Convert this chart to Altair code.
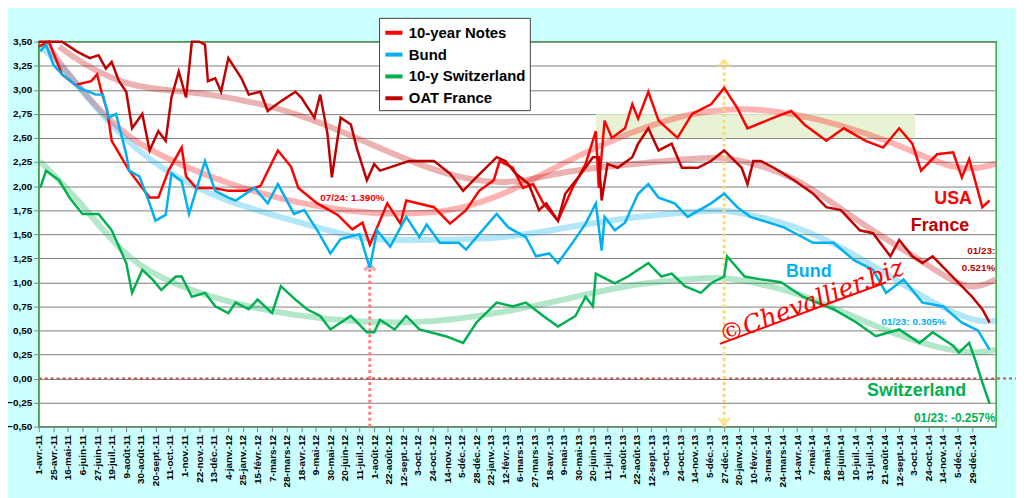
import altair as alt
import pandas as pd

DATE_LABELS = [
    "1-avr.-11", "25-avr.-11", "16-mai-11", "6-juin-11", "27-juin-11", "19-juil.-11",
    "9-août-11", "30-août-11", "20-sept.-11", "11-oct.-11", "1-nov.-11", "22-nov.-11",
    "13-déc.-11", "4-janv.-12", "25-janv.-12", "15-févr.-12", "7-mars-12", "28-mars-12",
    "18-avr.-12", "9-mai-12", "30-mai-12", "20-juin-12", "11-juil.-12", "1-août-12",
    "22-août-12", "12-sept.-12", "3-oct.-12", "24-oct.-12", "14-nov.-12", "5-déc.-12",
    "28-déc.-12", "22-janv.-13", "12-févr.-13", "6-mars-13", "27-mars-13", "18-avr.-13",
    "9-mai-13", "30-mai-13", "20-juin-13", "11-juil.-13", "1-août-13", "22-août-13",
    "12-sept.-13", "3-oct.-13", "24-oct.-13", "14-nov.-13", "5-déc.-13", "27-déc.-13",
    "20-janv.-14", "10-févr.-14", "3-mars-14", "24-mars-14", "14-avr.-14", "7-mai-14",
    "28-mai-14", "18-juin-14", "10-juil.-14", "31-juil.-14", "21-août-14", "12-sept.-14",
    "3-oct.-14", "24-oct.-14", "14-nov.-14", "5-déc.-14", "29-déc.-14",
]

# time in "label steps" (one step = 15 trading days)
US_T = [0, 0.7, 1.6, 2.5, 3.6, 4.0, 4.3, 4.7, 5.0, 6.2, 7.1, 7.6, 8.2, 8.9, 9.8, 10.1,
        10.8, 12.0, 13.0, 14.2, 15.2, 16.4, 17.3, 17.8, 19.1, 20.5, 21.5, 22.2, 22.7,
        23.9, 24.8, 25.2, 27.1, 28.2, 29.3, 30.2, 31.2, 31.6, 32.5, 33.2, 33.9, 34.6,
        35.6, 36.6, 37.5, 38.2, 38.4, 38.8, 39.3, 40.2, 40.7, 41.1, 41.8, 42.5, 43.8,
        44.8, 46.1, 47.0, 47.9, 48.6, 50.4, 51.6, 52.5, 54.0, 55.2, 56.7, 57.9, 59.0,
        59.9, 60.5, 61.6, 62.7, 63.3, 63.8, 64.4, 64.7, 65.2]
US_V = [3.45, 3.5, 3.16, 3.05, 3.09, 3.16, 2.98, 2.78, 2.47, 2.16, 1.98, 1.88, 1.88, 2.16,
        2.40, 2.10, 1.98, 1.98, 1.95, 1.95, 2.0, 2.37, 2.2, 1.98, 1.82, 1.70, 1.55, 1.62,
        1.39, 1.82, 1.61, 1.85, 1.78, 1.61, 1.75, 1.95, 2.06, 2.26, 2.19, 1.98, 2.02, 1.82,
        1.64, 1.98, 2.23, 2.57, 1.98, 2.68, 2.50, 2.60, 2.85, 2.70, 2.98, 2.68, 2.50,
        2.75, 2.85, 3.02, 2.81, 2.60, 2.71, 2.78, 2.64, 2.47, 2.60, 2.47, 2.40, 2.60,
        2.44, 2.16, 2.33, 2.35, 2.09, 2.28, 1.95, 1.78, 1.85]

BUND_T = [0.1, 0.5, 1.0, 1.6, 2.8, 3.9, 4.4, 4.8, 5.3, 6.0, 6.2, 6.9, 7.6, 8.0, 8.7, 9.1,
          9.8, 10.3, 11.4, 12.1, 13.0, 13.5, 14.8, 15.7, 16.4, 17.5, 18.2, 19.1, 20.0,
          20.7, 22.0, 22.7, 23.2, 24.1, 25.2, 26.1, 26.6, 27.5, 28.8, 29.3, 30.2, 31.4,
          32.2, 33.4, 34.1, 35.0, 35.6, 36.6, 37.5, 38.2, 38.6, 38.8, 39.5, 40.2, 41.1,
          41.8, 42.5, 43.6, 44.5, 46.1, 47.0, 47.9, 48.8, 51.1, 53.1, 54.5, 55.9, 57.2,
          58.1, 59.3, 60.6, 62.0, 63.3, 64.4, 65.2]
BUND_V = [3.40, 3.47, 3.26, 3.16, 3.02, 2.95, 2.95, 2.71, 2.75, 2.33, 2.16, 2.10, 1.82,
          1.64, 1.70, 2.13, 2.05, 1.71, 2.26, 1.95, 1.88, 1.85, 1.98, 1.82, 2.02, 1.71,
          1.75, 1.54, 1.30, 1.45, 1.50, 1.15, 1.54, 1.37, 1.68, 1.47, 1.60, 1.41, 1.41,
          1.34, 1.50, 1.71, 1.57, 1.47, 1.27, 1.30, 1.20, 1.41, 1.61, 1.82, 1.33, 1.68,
          1.54, 1.62, 1.92, 2.02, 1.88, 1.82, 1.68, 1.82, 1.92, 1.78, 1.68, 1.57, 1.41,
          1.41, 1.23, 1.13, 0.89, 1.03, 0.79, 0.75, 0.58, 0.50, 0.30]

SWISS_T = [0.1, 0.5, 1.4, 2.1, 3.0, 4.1, 5.0, 6.0, 6.4, 7.1, 7.8, 8.4, 9.4, 9.8, 10.5,
           11.4, 12.1, 13.0, 13.5, 14.4, 15.0, 16.0, 16.6, 17.6, 18.4, 19.3, 20.0, 21.4,
           22.5, 23.0, 23.4, 24.4, 25.2, 26.1, 27.9, 29.1, 30.0, 31.4, 32.5, 33.4, 34.6,
           35.6, 36.8, 37.5, 38.0, 38.2, 39.5, 40.4, 41.8, 42.7, 43.4, 44.3, 45.4, 46.1,
           47.0, 47.2, 48.4, 49.5, 50.9, 52.4, 54.5, 56.1, 57.4, 59.0, 60.4, 61.3, 62.7,
           63.1, 63.8, 64.2, 64.7, 65.2]
SWISS_V = [1.98, 2.16, 2.06, 1.88, 1.71, 1.71, 1.54, 1.20, 0.89, 1.13, 1.03, 0.92, 1.06,
           1.06, 0.85, 0.89, 0.75, 0.68, 0.79, 0.72, 0.82, 0.68, 0.96, 0.82, 0.72, 0.65,
           0.51, 0.65, 0.48, 0.48, 0.61, 0.51, 0.65, 0.51, 0.44, 0.37, 0.58, 0.79, 0.75,
           0.79, 0.65, 0.54, 0.65, 0.85, 0.75, 1.09, 0.99, 1.06, 1.20, 1.06, 1.09, 0.96,
           0.89, 0.99, 1.06, 1.27, 1.06, 1.03, 1.00, 0.85, 0.72, 0.58, 0.44, 0.51, 0.37,
           0.48, 0.34, 0.27, 0.37, 0.20, -0.04, -0.26]

FRANCE_T = [0.0, 1.6, 2.6, 3.5, 4.1, 4.6, 5.0, 5.5, 6.0, 6.4, 7.1, 7.6, 8.2, 8.7, 9.1,
            9.6, 10.1, 10.5, 11.0, 11.4, 11.6, 12.1, 12.5, 13.0, 13.9, 14.4, 15.2, 15.7,
            16.6, 17.6, 18.0, 18.9, 19.3, 19.8, 20.1, 20.7, 21.4, 21.8, 22.5, 23.0, 23.4,
            24.8, 25.4, 27.1, 28.2, 29.1, 30.0, 31.4, 32.0, 32.7, 33.6, 34.3, 34.8, 35.6,
            36.1, 37.0, 38.0, 38.4, 38.6, 39.0, 39.7, 40.7, 41.1, 41.8, 42.5, 43.4, 44.1,
            45.2, 46.1, 47.0, 48.2, 48.6, 49.0, 49.5, 50.4, 51.8, 53.1, 54.0, 55.0, 56.3,
            57.2, 58.4, 59.0, 59.9, 60.6, 61.3, 62.2, 63.1, 64.0, 64.7, 65.2]
FRANCE_V = [3.60, 3.50, 3.40, 3.33, 3.36, 3.22, 3.29, 3.09, 2.98, 2.60, 2.75, 2.37, 2.57,
            2.47, 2.92, 3.19, 2.92, 3.55, 3.55, 3.47, 3.09, 3.12, 2.98, 3.33, 3.12, 2.95,
            2.98, 2.78, 2.88, 2.98, 2.92, 2.71, 2.95, 2.54, 2.09, 2.71, 2.64, 2.40, 2.06,
            2.23, 2.16, 2.23, 2.26, 2.26, 2.13, 1.95, 2.09, 2.30, 2.26, 2.13, 2.02, 1.75,
            1.82, 1.64, 1.92, 2.09, 2.30, 2.30, 1.85, 2.23, 2.19, 2.30, 2.44, 2.60, 2.37,
            2.44, 2.19, 2.19, 2.26, 2.37, 2.19, 2.02, 2.26, 2.26, 2.19, 2.06, 1.92, 1.78,
            1.75, 1.54, 1.51, 1.27, 1.44, 1.27, 1.20, 1.27, 1.13, 0.99, 0.85, 0.72, 0.58]

# smoothed trend curves
US_TREND_T = [0.4, 2.8, 6.2, 9.6, 13.0, 17.6, 23.0, 27.1, 29.3, 31.6, 33.0, 38.0, 43.0,
              47.0, 51.8, 58.6, 63.0, 65.6]
US_TREND_V = [3.50, 3.00, 2.47, 2.23, 2.02, 1.82, 1.70, 1.72, 1.78, 1.90, 2.00, 2.40,
              2.70, 2.82, 2.78, 2.47, 2.13, 2.23]
FRANCE_TREND_T = [1.4, 2.8, 5.7, 8.4, 11.6, 15.2, 18.6, 23.0, 25.9, 29.3, 32.7, 36.1,
                  40.7, 46.1, 47.2, 51.8, 56.3, 60.8, 63.8, 65.6]
FRANCE_TREND_V = [3.45, 3.29, 3.06, 3.00, 2.96, 2.86, 2.71, 2.42, 2.23, 2.06, 2.02, 2.16,
                  2.23, 2.30, 2.30, 2.13, 1.61, 1.20, 0.89, 1.03]
BUND_TREND_T = [0.07, 1.6, 5.0, 8.4, 13.0, 17.6, 22.0, 24.8, 31.6, 36.1, 40.7, 46.1, 47.2,
                51.8, 56.3, 60.8, 64.2, 65.6]
BUND_TREND_V = [3.45, 3.26, 2.60, 2.16, 1.82, 1.64, 1.44, 1.44, 1.44, 1.57, 1.68, 1.75,
                1.75, 1.61, 1.27, 0.82, 0.58, 0.60]
SWISS_TREND_T = [0.07, 2.8, 6.2, 9.6, 13.0, 17.6, 22.0, 27.1, 31.6, 36.1, 40.7, 46.1,
                 47.2, 51.8, 56.3, 60.8, 64.2, 65.6]
SWISS_TREND_V = [2.26, 1.85, 1.20, 0.96, 0.79, 0.65, 0.58, 0.58, 0.68, 0.82, 0.99, 1.05,
                 1.05, 0.92, 0.61, 0.34, 0.25, 0.30]

SERIES = ["10-year Notes", "Bund", "10-y Switzerland", "OAT France"]
COLORS = ["#FF0000", "#00B0F0", "#00B050", "#C00000"]

X_MAX = 65.65
W, H = 965, 388

rows = []
for name, ts, vs in [(SERIES[0], US_T, US_V), (SERIES[1], BUND_T, BUND_V),
                     (SERIES[2], SWISS_T, SWISS_V), (SERIES[3], FRANCE_T, FRANCE_V)]:
    rows += [{"series": name, "t": t, "v": min(v, 3.5), "o": k} for k, (t, v) in enumerate(zip(ts, vs))]
lines_df = pd.DataFrame(rows)

trows = []
for name, ts, vs in [(SERIES[0], US_TREND_T, US_TREND_V), (SERIES[1], BUND_TREND_T, BUND_TREND_V),
                     (SERIES[2], SWISS_TREND_T, SWISS_TREND_V), (SERIES[3], FRANCE_TREND_T, FRANCE_TREND_V)]:
    trows += [{"series": name, "t": t, "v": v, "o": k} for k, (t, v) in enumerate(zip(ts, vs))]
trend_df = pd.DataFrame(trows)

labels_js = "[" + ",".join("'" + s + "'" for s in DATE_LABELS) + "]"

x_scale = alt.Scale(domain=[0, X_MAX], nice=False, zero=False)
y_scale = alt.Scale(domain=[-0.5, 3.5], nice=False)
color_scale = alt.Scale(domain=SERIES, range=COLORS)

x_enc = alt.X(
    "t:Q", scale=x_scale, title=None,
    axis=alt.Axis(
        values=list(range(len(DATE_LABELS))),
        labelExpr=labels_js + "[datum.value]",
        labelAngle=270, labelAlign="right", labelBaseline="middle",
        labelFontSize=10, labelFontWeight="bold", labelColor="black",
        labelFont="Liberation Sans", labelOverlap=False, labelPadding=3,
        tickColor="#808080", domainColor="#808080", grid=False,
    ),
)
y_enc = alt.Y(
    "v:Q", scale=y_scale, title=None,
    axis=alt.Axis(
        values=[-0.5 + 0.25 * k for k in range(17)],
        labelExpr="replace(format(datum.value, '.2f'), '.', ',')",
        labelFontSize=10, labelFontWeight="bold", labelColor="black",
        labelFont="Liberation Sans", tickColor="#808080", domainColor="#808080",
        gridColor="#7F7F7F", gridOpacity=1, gridWidth=1,
    ),
)

# highlight box
box = alt.Chart(pd.DataFrame({"t": [38.2], "t2": [60.1], "v": [2.5], "v2": [2.75]})).mark_rect(
    color="#E2F0CC", opacity=0.8
).encode(x=x_enc, x2="t2:Q", y=y_enc, y2="v2:Q")

zero_line = alt.Chart(pd.DataFrame({"t": [0], "t2": [67.0], "v": [0]})).mark_rule(
    color="#C0504D", strokeDash=[3, 3], strokeWidth=2
).encode(x=x_enc, x2="t2:Q", y=y_enc)

trends = alt.Chart(trend_df).mark_line(interpolate="basis", strokeWidth=6, opacity=0.3).encode(
    x=x_enc, y=y_enc, order="o:Q",
    stroke=alt.Stroke("series:N", scale=color_scale, legend=None),
    detail="series:N",
)

vrules = alt.Chart(pd.DataFrame({
    "t": [22.7, 47.0], "v": [-0.5, -0.5], "v2": [1.2, 3.3], "c": ["#FF7C80", "#FFD966"]
})).mark_rule(strokeDash=[3, 3], strokeWidth=3).encode(
    x=x_enc, y=y_enc, y2="v2:Q", stroke=alt.Stroke("c:N", scale=None)
)

arrows = alt.Chart(pd.DataFrame({
    "t": [22.7, 47.0, 47.0], "v": [1.18, 3.3, -0.47], "a": [0, 0, 180],
    "c": ["#FF7C80", "#FFD966", "#FFD966"],
})).mark_point(shape="M-1,1L0,0L1,1", filled=False, size=120, strokeWidth=3).encode(
    x=x_enc, y=y_enc, angle=alt.Angle("a:Q", scale=None), stroke=alt.Stroke("c:N", scale=None)
)

lines = alt.Chart(lines_df).mark_line(strokeWidth=2.5).encode(
    x=x_enc, y=y_enc, order="o:Q",
    color=alt.Color(
        "series:N", scale=color_scale, sort=SERIES,
        legend=alt.Legend(
            title=None, orient="none", legendX=343, legendY=-24,
            symbolType="stroke", symbolStrokeWidth=4, symbolSize=300,
            labelFont="Liberation Sans", labelFontSize=15, labelFontWeight="bold",
            labelColor="black", fillColor="white", strokeColor="#404040",
            padding=4, rowPadding=3, labelLimit=300,
        ),
    ),
)

ANN_T = [19.3, 62.7, 61.8, 65.6, 65.6, 52.8, 60.0, 60.2, 62.8]
ANN_V = [1.88, 1.87, 1.58, 1.32, 1.15, 1.11, 0.59, -0.13, -0.41]
ANN_TEXT = ["07/24: 1.390%", "USA", "France", "01/23:", "0.521%", "Bund",
            "01/23: 0.305%", "Switzerland", "01/23: -0.257%"]
ANN_SIZE = [10, 18, 18, 10, 10, 18, 10, 18, 12]
ANN_ALIGN = ["left", "center", "center", "right", "right", "center", "center", "center", "center"]
ANN_COLOR = ["#FF0000", "#FF0000", "#C00000", "#C00000", "#C00000", "#00B0F0",
             "#00B0F0", "#00B050", "#00B050"]

texts = []
for t, v, s, sz, al, c in zip(ANN_T, ANN_V, ANN_TEXT, ANN_SIZE, ANN_ALIGN, ANN_COLOR):
    texts.append(
        alt.Chart(pd.DataFrame({"t": [t], "v": [v], "s": [s]})).mark_text(
            font="Liberation Sans", fontWeight="bold", fontSize=sz, align=al,
            baseline="middle", color=c,
        ).encode(x=x_enc, y=y_enc, text="s:N")
    )

watermark = alt.Chart(pd.DataFrame({"t": [53.0], "v": [0.80], "s": ["©Chevallier.biz"]})).mark_text(
    font="DejaVu Serif", fontStyle="italic", fontSize=25, angle=339, color="#FF0000",
    align="center", baseline="middle",
).encode(x=x_enc, y=y_enc, text="s:N")
underline = alt.Chart(pd.DataFrame({"t": [46.7], "t2": [58.1], "v": [0.36], "v2": [1.0]})).mark_rule(
    color="#FF0000", strokeWidth=2
).encode(x=x_enc, x2="t2:Q", y=y_enc, y2="v2:Q")

chart = alt.layer(
    box, zero_line, trends, vrules, arrows, lines, *texts, watermark, underline
).resolve_scale(
    color="independent", stroke="independent"
).properties(
    width=W, height=H, autosize=alt.AutoSizeParams(type="none"),
    padding={"left": 31, "top": 32, "right": 20, "bottom": 75},
    background="#CCFFFF",
).configure_view(fill="white", stroke="#33AA33", strokeWidth=1.5)

chart.save("out.html", embed_options={"renderer": "svg", "actions": False})
